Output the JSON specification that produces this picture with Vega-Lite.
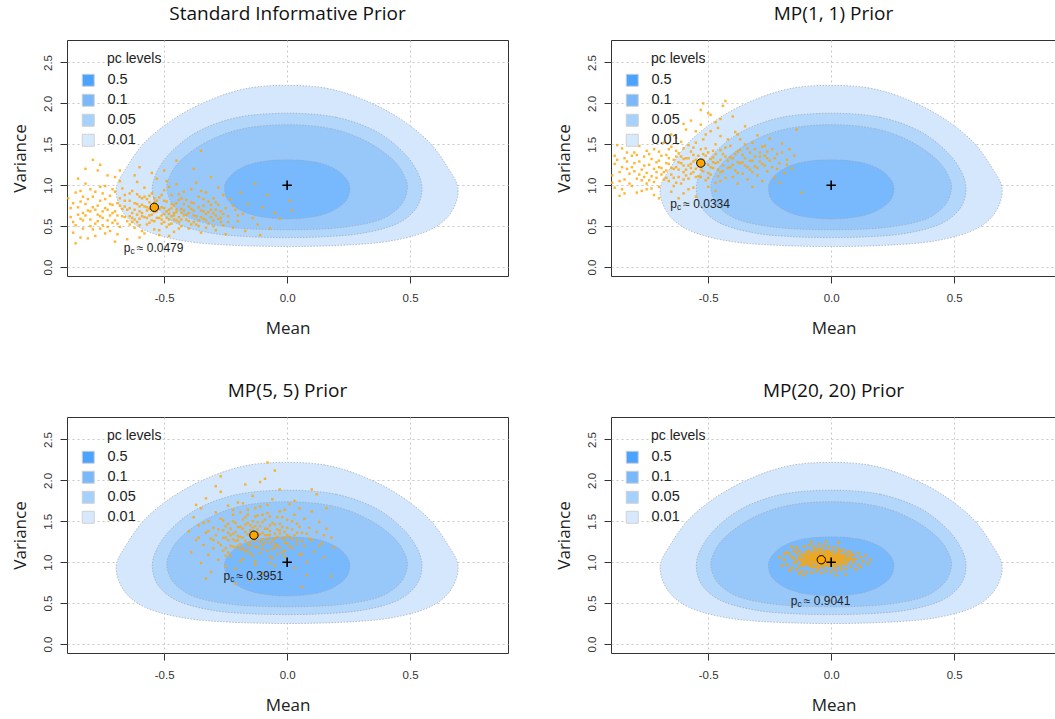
{
  "$schema": "https://vega.github.io/schema/vega-lite/v6.json",
  "background": "white",
  "autosize": {"type": "none"},
  "padding": {"left": 67, "top": 40, "right": 988, "bottom": 679},
  "columns": 2,
  "spacing": {"row": 141, "column": 103},
  "bounds": "flush",
  "align": "each",
  "resolve": {"scale": {"color": "independent", "fill": "independent"}, "legend": {"color": "independent"}},
  "config": {
    "font": "Liberation Sans",
    "view": {"stroke": "#333", "strokeWidth": 1},
    "title": {"font": "Open Sans", "fontSize": 19, "fontWeight": "normal", "color": "#111", "offset": 16, "anchor": "middle"},
    "axis": {
      "grid": true, "gridColor": "#c8c8c8", "gridDash": [2, 3], "gridWidth": 1,
      "domain": false, "ticks": true, "tickColor": "#333", "tickSize": 7,
      "labelFont": "Liberation Sans", "labelFontSize": 11.5, "labelColor": "#333",
      "titleFont": "Open Sans", "titleFontSize": 17, "titleFontWeight": "normal", "titleColor": "#222",
      "zindex": 1
    },
    "legend": {
      "orient": "none", "legendX": 40, "legendY": 12, "padding": 0,
      "titleFont": "Liberation Sans", "titleFontSize": 14, "titleFontWeight": "normal", "titleColor": "#222", "titlePadding": 7,
      "labelFont": "Liberation Sans", "labelFontSize": 14.5, "labelColor": "#222",
      "symbolType": "square", "symbolSize": 144, "symbolStrokeColor": "#d0d0d0", "symbolStrokeWidth": 1, "symbolOpacity": 1,
      "symbolOffset": -26, "labelOffset": 12, "rowPadding": 3
    }
  },
  "datasets": {
    "levels": [{"level": "0.5"}, {"level": "0.1"}, {"level": "0.05"}, {"level": "0.01"}],
    "regions": [
      {"level":"0.01","i":1,"m":0,"v":2.22},{"level":"0.01","i":2,"m":0.15,"v":2.19},{"level":"0.01","i":3,"m":0.29,"v":2.07},{"level":"0.01","i":4,"m":0.44,"v":1.85},{"level":"0.01","i":5,"m":0.57,"v":1.55},{"level":"0.01","i":6,"m":0.65,"v":1.23},{"level":"0.01","i":7,"m":0.695,"v":0.95},{"level":"0.01","i":8,"m":0.665,"v":0.66},{"level":"0.01","i":9,"m":0.585,"v":0.46},{"level":"0.01","i":10,"m":0.45,"v":0.335},{"level":"0.01","i":11,"m":0.28,"v":0.275},{"level":"0.01","i":12,"m":0,"v":0.25},{"level":"0.01","i":13,"m":-0.28,"v":0.275},{"level":"0.01","i":14,"m":-0.45,"v":0.335},{"level":"0.01","i":15,"m":-0.585,"v":0.46},{"level":"0.01","i":16,"m":-0.665,"v":0.66},{"level":"0.01","i":17,"m":-0.695,"v":0.95},{"level":"0.01","i":18,"m":-0.65,"v":1.23},{"level":"0.01","i":19,"m":-0.57,"v":1.55},{"level":"0.01","i":20,"m":-0.44,"v":1.85},{"level":"0.01","i":21,"m":-0.29,"v":2.07},{"level":"0.01","i":22,"m":-0.15,"v":2.19},
      {"level":"0.05","i":1,"m":0,"v":1.88},{"level":"0.05","i":2,"m":0.2,"v":1.83},{"level":"0.05","i":3,"m":0.36,"v":1.66},{"level":"0.05","i":4,"m":0.47,"v":1.41},{"level":"0.05","i":5,"m":0.53,"v":1.16},{"level":"0.05","i":6,"m":0.548,"v":0.93},{"level":"0.05","i":7,"m":0.52,"v":0.7},{"level":"0.05","i":8,"m":0.44,"v":0.52},{"level":"0.05","i":9,"m":0.3,"v":0.41},{"level":"0.05","i":10,"m":0.15,"v":0.37},{"level":"0.05","i":11,"m":0,"v":0.36},{"level":"0.05","i":12,"m":-0.15,"v":0.37},{"level":"0.05","i":13,"m":-0.3,"v":0.41},{"level":"0.05","i":14,"m":-0.44,"v":0.52},{"level":"0.05","i":15,"m":-0.52,"v":0.7},{"level":"0.05","i":16,"m":-0.548,"v":0.93},{"level":"0.05","i":17,"m":-0.53,"v":1.16},{"level":"0.05","i":18,"m":-0.47,"v":1.41},{"level":"0.05","i":19,"m":-0.36,"v":1.66},{"level":"0.05","i":20,"m":-0.2,"v":1.83},
      {"level":"0.1","i":1,"m":0,"v":1.74},{"level":"0.1","i":2,"m":0.18,"v":1.69},{"level":"0.1","i":3,"m":0.32,"v":1.54},{"level":"0.1","i":4,"m":0.43,"v":1.31},{"level":"0.1","i":5,"m":0.48,"v":1.09},{"level":"0.1","i":6,"m":0.487,"v":0.92},{"level":"0.1","i":7,"m":0.455,"v":0.73},{"level":"0.1","i":8,"m":0.37,"v":0.57},{"level":"0.1","i":9,"m":0.21,"v":0.48},{"level":"0.1","i":10,"m":0,"v":0.455},{"level":"0.1","i":11,"m":-0.21,"v":0.48},{"level":"0.1","i":12,"m":-0.37,"v":0.57},{"level":"0.1","i":13,"m":-0.455,"v":0.73},{"level":"0.1","i":14,"m":-0.487,"v":0.92},{"level":"0.1","i":15,"m":-0.48,"v":1.09},{"level":"0.1","i":16,"m":-0.43,"v":1.31},{"level":"0.1","i":17,"m":-0.32,"v":1.54},{"level":"0.1","i":18,"m":-0.18,"v":1.69},
      {"level":"0.5","i":1,"m":0,"v":1.31},{"level":"0.5","i":2,"m":0.12,"v":1.28},{"level":"0.5","i":3,"m":0.2,"v":1.19},{"level":"0.5","i":4,"m":0.245,"v":1.06},{"level":"0.5","i":5,"m":0.255,"v":0.94},{"level":"0.5","i":6,"m":0.237,"v":0.8},{"level":"0.5","i":7,"m":0.18,"v":0.68},{"level":"0.5","i":8,"m":0.1,"v":0.61},{"level":"0.5","i":9,"m":0,"v":0.587},{"level":"0.5","i":10,"m":-0.1,"v":0.61},{"level":"0.5","i":11,"m":-0.18,"v":0.68},{"level":"0.5","i":12,"m":-0.237,"v":0.8},{"level":"0.5","i":13,"m":-0.255,"v":0.94},{"level":"0.5","i":14,"m":-0.245,"v":1.06},{"level":"0.5","i":15,"m":-0.2,"v":1.19},{"level":"0.5","i":16,"m":-0.12,"v":1.28}
    ],
    "s1": [
      {"m":-0.88,"v":0.72},{"m":-0.87,"v":0.55},{"m":-0.86,"v":0.91},{"m":-0.85,"v":0.64},{"m":-0.84,"v":0.8},{"m":-0.83,"v":0.47},{"m":-0.82,"v":1.02},{"m":-0.81,"v":0.69},{"m":-0.8,"v":0.58},{"m":-0.79,"v":1.31},{"m":-0.79,"v":0.86},{"m":-0.78,"v":0.38},{"m":-0.77,"v":0.75},{"m":-0.76,"v":0.62},{"m":-0.76,"v":0.98},{"m":-0.75,"v":0.51},{"m":-0.74,"v":0.83},{"m":-0.73,"v":0.7},{"m":-0.73,"v":1.12},{"m":-0.72,"v":0.44},{"m":-0.71,"v":0.66},{"m":-0.7,"v":0.92},{"m":-0.7,"v":0.57},{"m":-0.69,"v":0.78},{"m":-0.68,"v":1.05},{"m":-0.68,"v":0.49},{"m":-0.67,"v":0.71},{"m":-0.66,"v":0.61},{"m":-0.66,"v":0.88},{"m":-0.65,"v":0.34},{"m":-0.89,"v":0.84},{"m":-0.87,"v":0.42},{"m":-0.85,"v":1.08},{"m":-0.84,"v":0.59},{"m":-0.82,"v":0.77},{"m":-0.81,"v":0.35},{"m":-0.8,"v":0.95},{"m":-0.78,"v":0.53},{"m":-0.77,"v":1.18},{"m":-0.75,"v":0.68},{"m":-0.74,"v":0.41},{"m":-0.72,"v":0.87},{"m":-0.71,"v":0.54},{"m":-0.69,"v":0.63},{"m":-0.67,"v":0.96},{"m":-0.86,"v":0.29},{"m":-0.83,"v":0.66},{"m":-0.79,"v":0.73},{"m":-0.76,"v":0.47},{"m":-0.74,"v":0.99},{"m":-0.71,"v":0.76},{"m":-0.69,"v":0.4},{"m":-0.68,"v":0.84},{"m":-0.88,"v":0.61},{"m":-0.84,"v":0.93},{"m":-0.8,"v":0.5},{"m":-0.77,"v":0.64},{"m":-0.73,"v":0.57},{"m":-0.7,"v":1.1},{"m":-0.66,"v":0.74},
      {"m":-0.64,"v":0.62},{"m":-0.64,"v":0.81},{"m":-0.63,"v":0.55},{"m":-0.63,"v":0.93},{"m":-0.62,"v":0.7},{"m":-0.62,"v":0.48},{"m":-0.61,"v":0.77},{"m":-0.61,"v":1.04},{"m":-0.6,"v":0.59},{"m":-0.6,"v":0.86},{"m":-0.59,"v":0.66},{"m":-0.59,"v":0.44},{"m":-0.58,"v":0.74},{"m":-0.58,"v":0.97},{"m":-0.57,"v":0.52},{"m":-0.57,"v":0.83},{"m":-0.56,"v":0.63},{"m":-0.56,"v":0.71},{"m":-0.55,"v":0.9},{"m":-0.55,"v":0.57},{"m":-0.54,"v":0.79},{"m":-0.54,"v":0.46},{"m":-0.53,"v":0.68},{"m":-0.53,"v":1.08},{"m":-0.52,"v":0.6},{"m":-0.52,"v":0.85},{"m":-0.51,"v":0.73},{"m":-0.51,"v":0.53},{"m":-0.5,"v":0.94},{"m":-0.5,"v":0.65},{"m":-0.49,"v":0.8},{"m":-0.49,"v":0.49},{"m":-0.48,"v":0.7},{"m":-0.48,"v":0.58},{"m":-0.47,"v":0.88},{"m":-0.47,"v":0.62},{"m":-0.46,"v":0.75},{"m":-0.46,"v":0.43},{"m":-0.45,"v":1.01},{"m":-0.45,"v":0.67},{"m":-0.44,"v":0.55},{"m":-0.44,"v":0.82},{"m":-0.43,"v":0.71},{"m":-0.43,"v":0.5},{"m":-0.42,"v":0.63},{"m":-0.42,"v":0.92},{"m":-0.64,"v":0.72},{"m":-0.63,"v":0.66},{"m":-0.62,"v":0.58},{"m":-0.61,"v":0.89},{"m":-0.6,"v":0.51},{"m":-0.59,"v":0.76},{"m":-0.58,"v":0.61},{"m":-0.57,"v":0.69},{"m":-0.56,"v":0.87},{"m":-0.55,"v":0.64},{"m":-0.54,"v":0.56},{"m":-0.53,"v":0.81},{"m":-0.52,"v":0.45},{"m":-0.51,"v":0.63},{"m":-0.5,"v":0.72},{"m":-0.49,"v":0.6},{"m":-0.48,"v":0.98},{"m":-0.47,"v":0.53},{"m":-0.46,"v":0.66},{"m":-0.45,"v":0.78},{"m":-0.44,"v":0.47},{"m":-0.43,"v":0.84},{"m":-0.62,"v":1.12},{"m":-0.58,"v":0.41},{"m":-0.55,"v":1.15},{"m":-0.52,"v":0.39},{"m":-0.49,"v":1.05},{"m":-0.46,"v":0.58},{"m":-0.64,"v":0.52},{"m":-0.6,"v":0.68},{"m":-0.57,"v":0.6},{"m":-0.53,"v":0.74},{"m":-0.5,"v":0.55},{"m":-0.47,"v":0.72},{"m":-0.44,"v":0.61},{"m":-0.42,"v":0.77},{"m":-0.61,"v":0.64},{"m":-0.56,"v":0.79},{"m":-0.51,"v":0.88},{"m":-0.48,"v":0.65},{"m":-0.45,"v":0.57},{"m":-0.59,"v":0.84},{"m":-0.54,"v":0.67},{"m":-0.43,"v":0.66},
      {"m":-0.41,"v":0.58},{"m":-0.41,"v":0.82},{"m":-0.4,"v":0.66},{"m":-0.4,"v":0.47},{"m":-0.39,"v":0.95},{"m":-0.39,"v":0.71},{"m":-0.38,"v":0.55},{"m":-0.38,"v":0.78},{"m":-0.37,"v":0.62},{"m":-0.37,"v":1.03},{"m":-0.36,"v":0.5},{"m":-0.36,"v":0.86},{"m":-0.35,"v":0.69},{"m":-0.35,"v":0.42},{"m":-0.34,"v":0.75},{"m":-0.34,"v":0.59},{"m":-0.33,"v":0.91},{"m":-0.33,"v":0.65},{"m":-0.32,"v":0.53},{"m":-0.32,"v":0.8},{"m":-0.31,"v":0.7},{"m":-0.31,"v":1.1},{"m":-0.3,"v":0.57},{"m":-0.3,"v":0.84},{"m":-0.29,"v":0.63},{"m":-0.29,"v":0.45},{"m":-0.28,"v":0.76},{"m":-0.28,"v":0.97},{"m":-0.27,"v":0.6},{"m":-0.27,"v":0.68},{"m":-0.26,"v":0.51},{"m":-0.26,"v":0.88},{"m":-0.25,"v":0.72},{"m":-0.25,"v":0.4},{"m":-0.4,"v":0.74},{"m":-0.38,"v":0.63},{"m":-0.36,"v":0.57},{"m":-0.34,"v":0.68},{"m":-0.33,"v":0.48},{"m":-0.31,"v":0.61},{"m":-0.29,"v":0.79},{"m":-0.27,"v":0.55},{"m":-0.39,"v":0.52},{"m":-0.35,"v":0.93},{"m":-0.3,"v":0.66},
      {"m":-0.24,"v":0.62},{"m":-0.23,"v":0.83},{"m":-0.22,"v":0.48},{"m":-0.21,"v":0.7},{"m":-0.2,"v":0.56},{"m":-0.19,"v":0.91},{"m":-0.18,"v":0.65},{"m":-0.17,"v":0.44},{"m":-0.16,"v":0.77},{"m":-0.14,"v":0.6},{"m":-0.13,"v":1.02},{"m":-0.12,"v":0.52},{"m":-0.1,"v":0.73},{"m":-0.08,"v":0.88},{"m":-0.07,"v":0.47},{"m":-0.05,"v":0.66},{"m":-0.03,"v":0.59},{"m":0.01,"v":0.81},{"m":0.02,"v":0.69},{"m":-0.11,"v":0.39},
      {"m":-0.87,"v":0.78},{"m":-0.86,"v":0.51},{"m":-0.85,"v":0.73},{"m":-0.83,"v":0.86},{"m":-0.83,"v":0.57},{"m":-0.82,"v":0.63},{"m":-0.81,"v":0.83},{"m":-0.8,"v":0.68},{"m":-0.79,"v":0.46},{"m":-0.78,"v":0.92},{"m":-0.78,"v":0.7},{"m":-0.77,"v":0.56},{"m":-0.76,"v":0.81},{"m":-0.75,"v":0.6},{"m":-0.75,"v":0.9},{"m":-0.74,"v":0.72},{"m":-0.73,"v":0.49},{"m":-0.72,"v":0.77},{"m":-0.72,"v":0.63},{"m":-0.71,"v":0.95},{"m":-0.7,"v":0.68},{"m":-0.69,"v":0.53},{"m":-0.68,"v":0.75},{"m":-0.67,"v":0.62},{"m":-0.66,"v":0.81},{"m":-0.65,"v":0.56},{"m":-0.65,"v":0.7},{"m":-0.64,"v":0.9},{"m":-0.63,"v":0.6},{"m":-0.62,"v":0.78},{"m":-0.61,"v":0.55},{"m":-0.6,"v":0.74},{"m":-0.59,"v":0.62},{"m":-0.58,"v":0.86},{"m":-0.57,"v":0.73},{"m":-0.56,"v":0.54},{"m":-0.55,"v":0.69},{"m":-0.54,"v":0.84},{"m":-0.53,"v":0.6},{"m":-0.52,"v":0.71},{"m":-0.51,"v":0.58},{"m":-0.5,"v":0.81},{"m":-0.49,"v":0.68},{"m":-0.48,"v":0.52},{"m":-0.47,"v":0.77},{"m":-0.46,"v":0.63},{"m":-0.45,"v":0.7},{"m":-0.44,"v":0.89},{"m":-0.43,"v":0.58},{"m":-0.42,"v":0.69},{"m":-0.41,"v":0.64},{"m":-0.4,"v":0.56},{"m":-0.39,"v":0.79},{"m":-0.38,"v":0.69},{"m":-0.37,"v":0.52},{"m":-0.36,"v":0.73},{"m":-0.35,"v":0.61},{"m":-0.34,"v":0.83},{"m":-0.33,"v":0.57},{"m":-0.32,"v":0.67},{"m":-0.31,"v":0.76},{"m":-0.3,"v":0.5},{"m":-0.29,"v":0.7},{"m":-0.28,"v":0.59},{"m":-0.26,"v":0.65},{"m":-0.24,"v":0.55},{"m":-0.22,"v":0.75},{"m":-0.2,"v":0.63},{"m":-0.82,"v":1.2},{"m":-0.76,"v":1.25},{"m":-0.68,"v":1.18},{"m":-0.6,"v":1.22},{"m":-0.5,"v":1.18},{"m":-0.45,"v":1.3},{"m":-0.38,"v":1.2},{"m":-0.35,"v":1.42},{"m":-0.84,"v":0.36},{"m":-0.7,"v":0.31},{"m":-0.6,"v":0.36},{"m":-0.48,"v":0.38}
    ],
    "s2": [
      {"m":-0.89,"v":1.12},{"m":-0.88,"v":0.97},{"m":-0.87,"v":1.31},{"m":-0.86,"v":1.05},{"m":-0.85,"v":1.22},{"m":-0.84,"v":0.9},{"m":-0.83,"v":1.4},{"m":-0.82,"v":1.14},{"m":-0.81,"v":0.99},{"m":-0.8,"v":1.27},{"m":-0.79,"v":1.08},{"m":-0.78,"v":1.48},{"m":-0.77,"v":0.93},{"m":-0.77,"v":1.19},{"m":-0.76,"v":1.35},{"m":-0.75,"v":1.02},{"m":-0.74,"v":1.25},{"m":-0.73,"v":1.11},{"m":-0.72,"v":0.88},{"m":-0.72,"v":1.44},{"m":-0.71,"v":1.16},{"m":-0.7,"v":1.3},{"m":-0.7,"v":0.98},{"m":-0.69,"v":1.21},{"m":-0.68,"v":1.07},{"m":-0.68,"v":1.52},{"m":-0.88,"v":1.26},{"m":-0.86,"v":0.87},{"m":-0.84,"v":1.33},{"m":-0.82,"v":1.02},{"m":-0.8,"v":1.17},{"m":-0.79,"v":0.91},{"m":-0.76,"v":1.1},{"m":-0.74,"v":1.38},{"m":-0.73,"v":0.96},{"m":-0.71,"v":1.28},{"m":-0.69,"v":1.13},{"m":-0.87,"v":1.49},{"m":-0.83,"v":1.2},{"m":-0.78,"v":1.29},{"m":-0.75,"v":1.15},{"m":-0.72,"v":1.04},{"m":-0.85,"v":0.95},{"m":-0.81,"v":1.36},{"m":-0.77,"v":1.06},{"m":-0.7,"v":1.41},{"m":-0.89,"v":1.03},{"m":-0.8,"v":1.58},
      {"m":-0.67,"v":1.18},{"m":-0.67,"v":1.37},{"m":-0.66,"v":1.05},{"m":-0.66,"v":1.26},{"m":-0.65,"v":1.47},{"m":-0.65,"v":1.13},{"m":-0.64,"v":1.31},{"m":-0.64,"v":0.99},{"m":-0.63,"v":1.22},{"m":-0.63,"v":1.58},{"m":-0.62,"v":1.1},{"m":-0.62,"v":1.39},{"m":-0.61,"v":1.27},{"m":-0.61,"v":1.02},{"m":-0.6,"v":1.45},{"m":-0.6,"v":1.16},{"m":-0.59,"v":1.33},{"m":-0.59,"v":1.68},{"m":-0.58,"v":1.08},{"m":-0.58,"v":1.24},{"m":-0.57,"v":1.41},{"m":-0.57,"v":1.14},{"m":-0.56,"v":1.29},{"m":-0.56,"v":0.97},{"m":-0.55,"v":1.52},{"m":-0.55,"v":1.2},{"m":-0.54,"v":1.36},{"m":-0.54,"v":1.11},{"m":-0.53,"v":1.44},{"m":-0.53,"v":1.74},{"m":-0.52,"v":1.17},{"m":-0.52,"v":1.31},{"m":-0.51,"v":1.06},{"m":-0.51,"v":1.62},{"m":-0.5,"v":1.25},{"m":-0.5,"v":1.4},{"m":-0.49,"v":1.13},{"m":-0.49,"v":1.86},{"m":-0.48,"v":1.34},{"m":-0.48,"v":1.21},{"m":-0.47,"v":1.5},{"m":-0.47,"v":1.03},{"m":-0.46,"v":1.28},{"m":-0.46,"v":1.7},{"m":-0.45,"v":1.16},{"m":-0.45,"v":1.43},{"m":-0.44,"v":1.97},{"m":-0.44,"v":1.24},{"m":-0.43,"v":1.35},{"m":-0.43,"v":1.09},{"m":-0.42,"v":1.56},{"m":-0.42,"v":1.3},{"m":-0.66,"v":1.33},{"m":-0.64,"v":1.2},{"m":-0.62,"v":1.28},{"m":-0.6,"v":1.07},{"m":-0.58,"v":1.49},{"m":-0.56,"v":1.37},{"m":-0.54,"v":1.23},{"m":-0.52,"v":1.56},{"m":-0.5,"v":1.15},{"m":-0.48,"v":1.42},{"m":-0.46,"v":1.19},{"m":-0.44,"v":1.38},{"m":-0.65,"v":1.62},{"m":-0.61,"v":1.53},{"m":-0.57,"v":1.79},{"m":-0.53,"v":1.92},{"m":-0.49,"v":1.66},{"m":-0.45,"v":1.81},{"m":-0.43,"v":2.03},{"m":-0.63,"v":1.35},{"m":-0.59,"v":1.19},{"m":-0.55,"v":1.31},{"m":-0.51,"v":1.45},{"m":-0.47,"v":1.27},{"m":-0.67,"v":1.09},{"m":-0.63,"v":1.03},{"m":-0.57,"v":1.26},{"m":-0.53,"v":1.1},{"m":-0.49,"v":1.32},{"m":-0.45,"v":1.05},{"m":-0.6,"v":1.32},{"m":-0.56,"v":1.16},{"m":-0.52,"v":1.38},
      {"m":-0.41,"v":1.22},{"m":-0.41,"v":1.48},{"m":-0.4,"v":1.1},{"m":-0.4,"v":1.33},{"m":-0.39,"v":1.65},{"m":-0.39,"v":1.18},{"m":-0.38,"v":1.41},{"m":-0.38,"v":1.02},{"m":-0.37,"v":1.27},{"m":-0.37,"v":1.56},{"m":-0.36,"v":1.14},{"m":-0.36,"v":1.37},{"m":-0.35,"v":1.24},{"m":-0.35,"v":1.72},{"m":-0.34,"v":1.07},{"m":-0.34,"v":1.45},{"m":-0.33,"v":1.3},{"m":-0.33,"v":1.19},{"m":-0.32,"v":1.52},{"m":-0.32,"v":0.98},{"m":-0.31,"v":1.35},{"m":-0.31,"v":1.23},{"m":-0.3,"v":1.61},{"m":-0.3,"v":1.12},{"m":-0.29,"v":1.4},{"m":-0.28,"v":1.26},{"m":-0.28,"v":1.05},{"m":-0.27,"v":1.48},{"m":-0.26,"v":1.17},{"m":-0.26,"v":1.33},{"m":-0.25,"v":1.57},{"m":-0.24,"v":1.22},{"m":-0.23,"v":1.09},{"m":-0.22,"v":1.38},{"m":-0.21,"v":1.27},{"m":-0.2,"v":1.51},{"m":-0.19,"v":1.15},{"m":-0.18,"v":1.31},{"m":-0.17,"v":1.44},{"m":-0.16,"v":1.2},{"m":-0.15,"v":1.36},{"m":-0.38,"v":1.28},{"m":-0.35,"v":1.5},{"m":-0.32,"v":1.16},{"m":-0.29,"v":1.29},{"m":-0.27,"v":1.36},{"m":-0.24,"v":1.44},{"m":-0.21,"v":1.03},{"m":-0.14,"v":1.68},{"m":-0.12,"v":0.91},
      {"m":-0.6,"v":0.9},{"m":-0.55,"v":0.86},{"m":-0.62,"v":0.84},{"m":-0.47,"v":0.93},{"m":-0.7,"v":0.84},
      {"m":-0.86,"v":1.16},{"m":-0.84,"v":1.07},{"m":-0.83,"v":1.29},{"m":-0.81,"v":1.22},{"m":-0.79,"v":1.37},{"m":-0.78,"v":1.13},{"m":-0.76,"v":1.24},{"m":-0.75,"v":1.42},{"m":-0.74,"v":1.06},{"m":-0.73,"v":1.32},{"m":-0.72,"v":1.2},{"m":-0.71,"v":1.09},{"m":-0.7,"v":1.22},{"m":-0.69,"v":1.36},{"m":-0.68,"v":1.16},{"m":-0.67,"v":1.27},{"m":-0.66,"v":1.44},{"m":-0.65,"v":1.21},{"m":-0.64,"v":1.09},{"m":-0.63,"v":1.42},{"m":-0.62,"v":1.19},{"m":-0.61,"v":1.35},{"m":-0.6,"v":1.24},{"m":-0.59,"v":1.12},{"m":-0.58,"v":1.33},{"m":-0.57,"v":1.21},{"m":-0.56,"v":1.46},{"m":-0.55,"v":1.1},{"m":-0.54,"v":1.29},{"m":-0.53,"v":1.19},{"m":-0.52,"v":1.25},{"m":-0.51,"v":1.36},{"m":-0.5,"v":1.09},{"m":-0.49,"v":1.22},{"m":-0.48,"v":1.28},{"m":-0.47,"v":1.38},{"m":-0.46,"v":1.11},{"m":-0.45,"v":1.31},{"m":-0.44,"v":1.17},{"m":-0.43,"v":1.46},{"m":-0.42,"v":1.21},{"m":-0.41,"v":1.34},{"m":-0.4,"v":1.25},{"m":-0.39,"v":1.38},{"m":-0.38,"v":1.15},{"m":-0.37,"v":1.43},{"m":-0.36,"v":1.28},{"m":-0.35,"v":1.33},{"m":-0.34,"v":1.22},{"m":-0.33,"v":1.4},{"m":-0.32,"v":1.3},{"m":-0.31,"v":1.44},{"m":-0.3,"v":1.21},{"m":-0.29,"v":1.35},{"m":-0.28,"v":1.47},{"m":-0.27,"v":1.24},{"m":-0.26,"v":1.41},{"m":-0.25,"v":1.3},{"m":-0.23,"v":1.33},{"m":-0.22,"v":1.2},{"m":-0.2,"v":1.4},{"m":-0.18,"v":1.25},{"m":-0.6,"v":1.75},{"m":-0.55,"v":1.66},{"m":-0.5,"v":1.88},{"m":-0.47,"v":1.77},{"m":-0.4,"v":1.84},{"m":-0.38,"v":1.62},{"m":-0.52,"v":2},{"m":-0.45,"v":1.6},{"m":-0.85,"v":1.45},{"m":-0.8,"v":1.4},{"m":-0.88,"v":1.36},{"m":-0.75,"v":0.95},{"m":-0.65,"v":0.92},{"m":-0.58,"v":0.95},{"m":-0.5,"v":0.98}
    ],
    "s3": [
      {"m":-0.4,"v":1.38},{"m":-0.39,"v":1.12},{"m":-0.38,"v":1.55},{"m":-0.37,"v":1.27},{"m":-0.36,"v":1.45},{"m":-0.35,"v":0.99},{"m":-0.35,"v":1.66},{"m":-0.34,"v":1.21},{"m":-0.33,"v":1.36},{"m":-0.33,"v":1.78},{"m":-0.32,"v":1.09},{"m":-0.32,"v":1.5},{"m":-0.31,"v":1.29},{"m":-0.31,"v":0.88},{"m":-0.3,"v":1.42},{"m":-0.3,"v":1.17},{"m":-0.29,"v":1.61},{"m":-0.29,"v":1.33},{"m":-0.28,"v":1.03},{"m":-0.28,"v":1.24},{"m":-0.27,"v":1.53},{"m":-0.27,"v":1.86},{"m":-0.26,"v":1.14},{"m":-0.26,"v":1.39},{"m":-0.25,"v":1.3},{"m":-0.25,"v":0.95},{"m":-0.24,"v":1.47},{"m":-0.24,"v":1.69},{"m":-0.23,"v":1.2},{"m":-0.23,"v":1.08},{"m":-0.22,"v":1.35},{"m":-0.22,"v":1.58},{"m":-0.21,"v":1.26},{"m":-0.21,"v":0.92},{"m":-0.2,"v":1.43},{"m":-0.2,"v":1.73},{"m":-0.19,"v":1.16},{"m":-0.19,"v":1.31},{"m":-0.18,"v":1.52},{"m":-0.18,"v":1.04},{"m":-0.17,"v":1.37},{"m":-0.17,"v":1.95},{"m":-0.16,"v":1.22},{"m":-0.16,"v":1.64},{"m":-0.15,"v":1.11},{"m":-0.15,"v":1.45},{"m":-0.14,"v":1.29},{"m":-0.14,"v":1.81},{"m":-0.13,"v":1.01},{"m":-0.13,"v":1.56},{"m":-0.12,"v":1.18},{"m":-0.12,"v":1.4},{"m":-0.11,"v":1.68},{"m":-0.11,"v":1.25},{"m":-0.1,"v":1.49},{"m":-0.1,"v":0.86},{"m":-0.09,"v":1.33},{"m":-0.09,"v":2.02},{"m":-0.08,"v":1.14},{"m":-0.08,"v":1.6},{"m":-0.07,"v":1.38},{"m":-0.07,"v":1.07},{"m":-0.06,"v":1.77},{"m":-0.06,"v":1.27},{"m":-0.05,"v":1.46},{"m":-0.05,"v":0.96},{"m":-0.04,"v":1.21},{"m":-0.04,"v":1.55},{"m":-0.03,"v":1.35},{"m":-0.03,"v":1.89},{"m":-0.02,"v":1.12},{"m":-0.02,"v":1.43},{"m":-0.01,"v":1.64},{"m":-0.01,"v":1.24},{"m":0,"v":1.52},{"m":0,"v":1.02},{"m":0.01,"v":1.31},{"m":0.01,"v":1.71},{"m":0.02,"v":1.17},{"m":0.02,"v":1.4},{"m":0.03,"v":1.58},{"m":0.03,"v":0.93},{"m":0.04,"v":1.27},{"m":0.04,"v":1.47},{"m":0.05,"v":1.09},{"m":0.05,"v":1.66},{"m":0.06,"v":1.36},{"m":0.07,"v":1.2},{"m":0.07,"v":1.53},{"m":0.08,"v":1},{"m":0.09,"v":1.42},{"m":0.09,"v":1.29},{"m":0.1,"v":1.62},{"m":0.11,"v":1.13},{"m":0.12,"v":1.37},{"m":0.13,"v":1.49},{"m":0.14,"v":1.23},{"m":0.15,"v":1.06},{"m":0.16,"v":1.41},{"m":0.18,"v":1.3},{"m":0.19,"v":1.18},
      {"m":-0.24,"v":1.27},{"m":-0.23,"v":1.41},{"m":-0.22,"v":1.19},{"m":-0.21,"v":1.48},{"m":-0.2,"v":1.32},{"m":-0.19,"v":1.22},{"m":-0.18,"v":1.41},{"m":-0.17,"v":1.13},{"m":-0.16,"v":1.34},{"m":-0.15,"v":1.25},{"m":-0.14,"v":1.5},{"m":-0.13,"v":1.19},{"m":-0.12,"v":1.31},{"m":-0.11,"v":1.44},{"m":-0.1,"v":1.21},{"m":-0.09,"v":1.52},{"m":-0.08,"v":1.28},{"m":-0.07,"v":1.45},{"m":-0.06,"v":1.16},{"m":-0.05,"v":1.35},{"m":-0.04,"v":1.4},{"m":-0.03,"v":1.18},{"m":-0.02,"v":1.29},{"m":-0.01,"v":1.37},{"m":0,"v":1.23},{"m":-0.26,"v":1.51},{"m":-0.25,"v":1.17},{"m":-0.22,"v":1.28},{"m":-0.19,"v":1.61},{"m":-0.17,"v":1.26},{"m":-0.15,"v":1.39},{"m":-0.13,"v":1.44},{"m":-0.11,"v":1.11},{"m":-0.09,"v":1.24},{"m":-0.07,"v":1.56},{"m":-0.05,"v":1.22},{"m":-0.03,"v":1.47},{"m":-0.01,"v":1.14},{"m":0.02,"v":1.28},{"m":0.04,"v":1.36},{"m":-0.18,"v":1.17},{"m":-0.16,"v":1.48},{"m":-0.14,"v":1.08},{"m":-0.12,"v":1.57},{"m":-0.1,"v":1.36},{"m":-0.08,"v":1.41},{"m":-0.06,"v":1.05},{"m":-0.04,"v":1.31},{"m":-0.21,"v":1.37},{"m":-0.14,"v":1.35},
      {"m":-0.08,"v":2.22},{"m":-0.05,"v":2.12},{"m":-0.27,"v":2.05},{"m":-0.11,"v":1.98},{"m":0.12,"v":1.83},{"m":0.16,"v":1.66},{"m":-0.33,"v":0.8},{"m":-0.21,"v":0.74},{"m":-0.15,"v":0.78},{"m":0.06,"v":0.7},{"m":0.18,"v":0.83},{"m":-0.37,"v":1.7},{"m":0.1,"v":1.89},{"m":-0.29,"v":1.93},{"m":0.08,"v":0.84},
      {"m":-0.28,"v":1.4},{"m":-0.27,"v":1.21},{"m":-0.26,"v":1.3},{"m":-0.25,"v":1.44},{"m":-0.24,"v":1.12},{"m":-0.23,"v":1.33},{"m":-0.22,"v":1.5},{"m":-0.21,"v":1.18},{"m":-0.2,"v":1.27},{"m":-0.19,"v":1.43},{"m":-0.18,"v":1.3},{"m":-0.17,"v":1.55},{"m":-0.16,"v":1.15},{"m":-0.15,"v":1.31},{"m":-0.14,"v":1.42},{"m":-0.13,"v":1.26},{"m":-0.12,"v":1.49},{"m":-0.11,"v":1.34},{"m":-0.1,"v":1.16},{"m":-0.09,"v":1.41},{"m":-0.08,"v":1.33},{"m":-0.07,"v":1.23},{"m":-0.06,"v":1.48},{"m":-0.05,"v":1.29},{"m":-0.04,"v":1.1},{"m":-0.03,"v":1.39},{"m":-0.02,"v":1.55},{"m":-0.01,"v":1.3},{"m":0,"v":1.42},{"m":0.01,"v":1.19},{"m":0.02,"v":1.5},{"m":0.03,"v":1.33},{"m":0.04,"v":1.22},{"m":0.05,"v":1.43},{"m":0.06,"v":1.26},{"m":0.08,"v":1.35},{"m":0.1,"v":1.27},{"m":-0.3,"v":1.27},{"m":-0.32,"v":1.38},{"m":-0.34,"v":1.48},{"m":-0.36,"v":1.3},{"m":-0.22,"v":1.64},{"m":-0.18,"v":1.72},{"m":-0.13,"v":1.66},{"m":-0.08,"v":1.7},{"m":-0.03,"v":1.62},{"m":0.03,"v":1.75},{"m":-0.25,"v":1.08},{"m":-0.19,"v":1.01},{"m":-0.13,"v":0.97},{"m":-0.07,"v":0.99},{"m":-0.01,"v":1.07},{"m":0.06,"v":1.1},{"m":-0.2,"v":1.2},{"m":-0.15,"v":1.2},{"m":-0.1,"v":1.28},{"m":-0.05,"v":1.18},{"m":-0.12,"v":1.36},{"m":-0.17,"v":1.46},{"m":-0.07,"v":1.33},{"m":-0.24,"v":1.36},{"m":0,"v":1.33},{"m":-0.16,"v":1.58},{"m":-0.1,"v":1.58},{"m":0.13,"v":1.2},{"m":0.15,"v":1.33}
    ],
    "s4": [
      {"m":-0.12,"v":1.04},{"m":-0.11,"v":0.99},{"m":-0.11,"v":1.09},{"m":-0.1,"v":1.02},{"m":-0.1,"v":1.13},{"m":-0.09,"v":0.96},{"m":-0.09,"v":1.06},{"m":-0.08,"v":1},{"m":-0.08,"v":1.11},{"m":-0.08,"v":1.04},{"m":-0.07,"v":0.94},{"m":-0.07,"v":1.08},{"m":-0.07,"v":1.02},{"m":-0.06,"v":1.15},{"m":-0.06,"v":0.98},{"m":-0.06,"v":1.05},{"m":-0.05,"v":1.1},{"m":-0.05,"v":1.01},{"m":-0.05,"v":0.95},{"m":-0.04,"v":1.07},{"m":-0.04,"v":1.12},{"m":-0.04,"v":0.99},{"m":-0.03,"v":1.04},{"m":-0.03,"v":0.93},{"m":-0.03,"v":1.09},{"m":-0.02,"v":1.01},{"m":-0.02,"v":1.14},{"m":-0.02,"v":0.97},{"m":-0.01,"v":1.06},{"m":-0.01,"v":1.02},{"m":0,"v":1.1},{"m":0,"v":0.96},{"m":0,"v":1.04},{"m":0.01,"v":1},{"m":0.01,"v":1.08},{"m":0.02,"v":1.03},{"m":0.02,"v":0.95},{"m":0.03,"v":1.06},{"m":0.03,"v":1.12},{"m":0.04,"v":0.99},{"m":0.04,"v":1.05},{"m":0.05,"v":1.02},{"m":0.05,"v":1.09},{"m":0.06,"v":0.97},{"m":0.06,"v":1.04},{"m":0.07,"v":1.07},{"m":-0.13,"v":1.07},{"m":-0.12,"v":0.97},{"m":-0.1,"v":1.07},{"m":-0.09,"v":1.01},{"m":-0.08,"v":0.97},{"m":-0.07,"v":1.12},{"m":-0.06,"v":1.01},{"m":-0.05,"v":1.06},{"m":-0.04,"v":1.03},{"m":-0.03,"v":1},{"m":-0.02,"v":1.06},{"m":-0.01,"v":0.99},{"m":-0.01,"v":1.11},{"m":0,"v":1.01},{"m":0.01,"v":1.05},{"m":0.02,"v":1.1},{"m":0.03,"v":1.01},{"m":0.04,"v":1.08},{"m":-0.11,"v":1.02},{"m":-0.09,"v":1.1},{"m":-0.06,"v":0.94},{"m":-0.04,"v":1.16},{"m":-0.02,"v":1.03},{"m":0,"v":1.07},{"m":0.02,"v":0.99},{"m":0.05,"v":1.05},{"m":-0.1,"v":0.98},{"m":-0.07,"v":1.05},{"m":-0.05,"v":0.98},{"m":-0.03,"v":1.13},{"m":-0.01,"v":0.95},{"m":0.01,"v":1.13},{"m":0.03,"v":0.97},{"m":-0.08,"v":1.07},{"m":-0.06,"v":1.09},{"m":-0.04,"v":0.96},{"m":-0.02,"v":1.09},{"m":0,"v":0.99},{"m":0.02,"v":1.06},{"m":-0.14,"v":1.01},{"m":-0.12,"v":1.1},{"m":0.07,"v":1.01},{"m":0.08,"v":1.04},{"m":-0.09,"v":1.14},{"m":0.04,"v":1.13},{"m":-0.05,"v":1.17},
      {"m":-0.19,"v":1.03},{"m":-0.18,"v":0.97},{"m":-0.17,"v":1.1},{"m":-0.16,"v":1.06},{"m":-0.16,"v":0.93},{"m":-0.15,"v":1.14},{"m":-0.15,"v":0.99},{"m":-0.14,"v":1.18},{"m":-0.14,"v":0.91},{"m":-0.13,"v":0.95},{"m":-0.13,"v":1.14},{"m":-0.12,"v":0.89},{"m":-0.11,"v":1.19},{"m":-0.1,"v":0.88},{"m":-0.09,"v":1.21},{"m":-0.08,"v":0.87},{"m":-0.07,"v":1.19},{"m":-0.06,"v":0.89},{"m":-0.05,"v":1.22},{"m":-0.04,"v":0.87},{"m":-0.03,"v":1.2},{"m":-0.02,"v":0.89},{"m":-0.01,"v":1.19},{"m":0,"v":0.88},{"m":0.01,"v":1.18},{"m":0.02,"v":0.9},{"m":0.03,"v":1.17},{"m":0.04,"v":0.91},{"m":0.05,"v":1.15},{"m":0.06,"v":0.92},{"m":0.07,"v":1.13},{"m":0.08,"v":0.95},{"m":0.09,"v":1.09},{"m":0.09,"v":1},{"m":0.1,"v":1.04},{"m":0.11,"v":0.97},{"m":0.12,"v":1.06},{"m":0.13,"v":1.01},{"m":0.15,"v":0.98},{"m":0.1,"v":0.91},{"m":-0.21,"v":1.06},{"m":-0.18,"v":1.12},{"m":-0.17,"v":0.9},{"m":0.08,"v":1.12},{"m":0.11,"v":1.11},{"m":-0.2,"v":0.96},{"m":0.14,"v":1.08},{"m":-0.16,"v":1.19},{"m":0.06,"v":0.85},{"m":-0.11,"v":0.84},{"m":0.03,"v":1.24},{"m":-0.08,"v":1.25},{"m":0.12,"v":0.94},{"m":-0.13,"v":0.86},{"m":0.02,"v":0.84},{"m":-0.02,"v":1.25},{"m":0.16,"v":1.03},{"m":-0.19,"v":1.1},
      {"m":-0.1,"v":1.05},{"m":-0.09,"v":1.03},{"m":-0.09,"v":0.99},{"m":-0.08,"v":1.09},{"m":-0.07,"v":0.99},{"m":-0.07,"v":1.04},{"m":-0.06,"v":1.03},{"m":-0.06,"v":1.11},{"m":-0.05,"v":1.04},{"m":-0.05,"v":1.13},{"m":-0.04,"v":1.01},{"m":-0.04,"v":1.09},{"m":-0.03,"v":1.06},{"m":-0.03,"v":0.97},{"m":-0.02,"v":1.11},{"m":-0.02,"v":0.99},{"m":-0.01,"v":1.04},{"m":-0.01,"v":1.08},{"m":0,"v":1.02},{"m":0,"v":1.12},{"m":0.01,"v":1.03},{"m":0.01,"v":0.97},{"m":0.02,"v":1.08},{"m":0.02,"v":1.01},{"m":0.03,"v":1.04},{"m":0.03,"v":1.09},{"m":0.04,"v":1.02},{"m":0.05,"v":1.07},{"m":0.05,"v":0.99},{"m":0.06,"v":1.1},{"m":-0.11,"v":1.06},{"m":-0.11,"v":0.96},{"m":-0.12,"v":1.01},{"m":-0.13,"v":1.04},{"m":-0.1,"v":1.1},{"m":-0.08,"v":0.94},{"m":-0.06,"v":1.07},{"m":-0.05,"v":0.92},{"m":-0.03,"v":1.02},{"m":-0.01,"v":1.14},{"m":0.01,"v":0.93},{"m":0.03,"v":1.14},{"m":0.06,"v":1},{"m":0.07,"v":1.04},{"m":-0.15,"v":1.05},{"m":-0.14,"v":1.11},{"m":0.08,"v":1.08},{"m":0.09,"v":1.03},{"m":-0.07,"v":1.15},{"m":0.04,"v":0.95}
    ]
  },
  "concat": [
    {
      "width": 441, "height": 236,
      "title": "Standard Informative Prior",
      "encoding": {
        "x": {"field": "m", "type": "quantitative", "title": "Mean", "scale": {"domain": [-0.895, 0.898], "nice": false, "zero": false}, "axis": {"values": [-0.5, 0, 0.5], "format": ".1f", "labelExpr": "replace(datum.label, '−', '-')", "labelPadding": 9, "titlePadding": 17}},
        "y": {"field": "v", "type": "quantitative", "title": "Variance", "scale": {"domain": [-0.11, 2.775], "nice": false, "zero": false}, "axis": {"values": [0, 0.5, 1, 1.5, 2, 2.5], "format": ".1f", "labelAngle": 270, "labelPadding": 7, "titlePadding": 13}}
      },
      "layer": [
        {"data": {"name": "regions"}, "mark": {"type": "line", "filled": true, "interpolate": "cardinal-closed", "stroke": "#9aa5b5", "strokeWidth": 1, "strokeDash": [1.5, 1.5], "strokeOpacity": 0.7},
         "encoding": {
           "fill": {"field": "level", "type": "nominal", "scale": {"domain": ["0.01", "0.05", "0.1", "0.5"], "range": ["#d4e7fc", "#b3d6fb", "#98c8fa", "#78b8fc"]}, "legend": null},
           "order": {"field": "i", "type": "quantitative"}}},
        {"data": {"name": "levels"}, "mark": {"type": "square", "size": 144},
         "encoding": {"color": {"field": "level", "type": "nominal", "title": "pᴄ levels", "scale": {"domain": ["0.5", "0.1", "0.05", "0.01"], "range": ["#4aa3fe", "#79b9fb", "#a6d1fc", "#d7e9fc"]}}}},
        {"data": {"name": "s1"}, "mark": {"type": "point", "shape": "square", "filled": true, "size": 6, "color": "#ffa500", "opacity": 0.8}},
        {"data": {"values": [{"m": -0.54, "v": 0.73, "pc": "≈ 0.0479"}]},
         "layer": [
           {"mark": {"type": "point", "shape": "circle", "filled": true, "size": 70, "color": "#ffa500", "stroke": "#000", "strokeWidth": 1, "opacity": 1}},
           {"mark": {"type": "text", "text": "p", "align": "left", "baseline": "middle", "dx": -30.5, "dy": 41, "fontSize": 12, "color": "#222"}},
           {"mark": {"type": "text", "text": "c", "align": "left", "baseline": "middle", "dx": -23.8, "dy": 44, "fontSize": 8.5, "color": "#222"}},
           {"mark": {"type": "text", "align": "left", "baseline": "middle", "dx": -17.5, "dy": 41, "fontSize": 12, "color": "#222"}, "encoding": {"text": {"field": "pc"}}}
         ]},
        {"data": {"values": [{"m": 0, "v": 1}]}, "mark": {"type": "point", "shape": "M-1,0L1,0M0,-1L0,1", "size": 90, "filled": false, "color": "#000", "strokeWidth": 1.6, "opacity": 1}}
      ]
    },
    {
      "width": 445, "height": 236,
      "title": "MP(1, 1) Prior",
      "encoding": {
        "x": {"field": "m", "type": "quantitative", "title": "Mean", "scale": {"domain": [-0.895, 0.914], "nice": false, "zero": false}, "axis": {"values": [-0.5, 0, 0.5], "format": ".1f", "labelExpr": "replace(datum.label, '−', '-')", "labelPadding": 9, "titlePadding": 17}},
        "y": {"field": "v", "type": "quantitative", "title": "Variance", "scale": {"domain": [-0.11, 2.775], "nice": false, "zero": false}, "axis": {"values": [0, 0.5, 1, 1.5, 2, 2.5], "format": ".1f", "labelAngle": 270, "labelPadding": 7, "titlePadding": 13}}
      },
      "layer": [
        {"data": {"name": "regions"}, "mark": {"type": "line", "filled": true, "interpolate": "cardinal-closed", "stroke": "#9aa5b5", "strokeWidth": 1, "strokeDash": [1.5, 1.5], "strokeOpacity": 0.7},
         "encoding": {
           "fill": {"field": "level", "type": "nominal", "scale": {"domain": ["0.01", "0.05", "0.1", "0.5"], "range": ["#d4e7fc", "#b3d6fb", "#98c8fa", "#78b8fc"]}, "legend": null},
           "order": {"field": "i", "type": "quantitative"}}},
        {"data": {"name": "levels"}, "mark": {"type": "square", "size": 144},
         "encoding": {"color": {"field": "level", "type": "nominal", "title": "pᴄ levels", "scale": {"domain": ["0.5", "0.1", "0.05", "0.01"], "range": ["#4aa3fe", "#79b9fb", "#a6d1fc", "#d7e9fc"]}}}},
        {"data": {"name": "s2"}, "mark": {"type": "point", "shape": "square", "filled": true, "size": 6, "color": "#ffa500", "opacity": 0.8}},
        {"data": {"values": [{"m": -0.53, "v": 1.27, "pc": "≈ 0.0334"}]},
         "layer": [
           {"mark": {"type": "point", "shape": "circle", "filled": true, "size": 70, "color": "#ffa500", "stroke": "#000", "strokeWidth": 1, "opacity": 1}},
           {"mark": {"type": "text", "text": "p", "align": "left", "baseline": "middle", "dx": -30.5, "dy": 41, "fontSize": 12, "color": "#222"}},
           {"mark": {"type": "text", "text": "c", "align": "left", "baseline": "middle", "dx": -23.8, "dy": 44, "fontSize": 8.5, "color": "#222"}},
           {"mark": {"type": "text", "align": "left", "baseline": "middle", "dx": -17.5, "dy": 41, "fontSize": 12, "color": "#222"}, "encoding": {"text": {"field": "pc"}}}
         ]},
        {"data": {"values": [{"m": 0, "v": 1}]}, "mark": {"type": "point", "shape": "M-1,0L1,0M0,-1L0,1", "size": 90, "filled": false, "color": "#000", "strokeWidth": 1.6, "opacity": 1}}
      ]
    },
    {
      "width": 441, "height": 236,
      "title": "MP(5, 5) Prior",
      "encoding": {
        "x": {"field": "m", "type": "quantitative", "title": "Mean", "scale": {"domain": [-0.895, 0.898], "nice": false, "zero": false}, "axis": {"values": [-0.5, 0, 0.5], "format": ".1f", "labelExpr": "replace(datum.label, '−', '-')", "labelPadding": 9, "titlePadding": 17}},
        "y": {"field": "v", "type": "quantitative", "title": "Variance", "scale": {"domain": [-0.11, 2.775], "nice": false, "zero": false}, "axis": {"values": [0, 0.5, 1, 1.5, 2, 2.5], "format": ".1f", "labelAngle": 270, "labelPadding": 7, "titlePadding": 13}}
      },
      "layer": [
        {"data": {"name": "regions"}, "mark": {"type": "line", "filled": true, "interpolate": "cardinal-closed", "stroke": "#9aa5b5", "strokeWidth": 1, "strokeDash": [1.5, 1.5], "strokeOpacity": 0.7},
         "encoding": {
           "fill": {"field": "level", "type": "nominal", "scale": {"domain": ["0.01", "0.05", "0.1", "0.5"], "range": ["#d4e7fc", "#b3d6fb", "#98c8fa", "#78b8fc"]}, "legend": null},
           "order": {"field": "i", "type": "quantitative"}}},
        {"data": {"name": "levels"}, "mark": {"type": "square", "size": 144},
         "encoding": {"color": {"field": "level", "type": "nominal", "title": "pᴄ levels", "scale": {"domain": ["0.5", "0.1", "0.05", "0.01"], "range": ["#4aa3fe", "#79b9fb", "#a6d1fc", "#d7e9fc"]}}}},
        {"data": {"name": "s3"}, "mark": {"type": "point", "shape": "square", "filled": true, "size": 6, "color": "#ffa500", "opacity": 0.8}},
        {"data": {"values": [{"m": -0.135, "v": 1.33, "pc": "≈ 0.3951"}]},
         "layer": [
           {"mark": {"type": "point", "shape": "circle", "filled": true, "size": 70, "color": "#ffa500", "stroke": "#000", "strokeWidth": 1, "opacity": 1}},
           {"mark": {"type": "text", "text": "p", "align": "left", "baseline": "middle", "dx": -30.5, "dy": 41, "fontSize": 12, "color": "#222"}},
           {"mark": {"type": "text", "text": "c", "align": "left", "baseline": "middle", "dx": -23.8, "dy": 44, "fontSize": 8.5, "color": "#222"}},
           {"mark": {"type": "text", "align": "left", "baseline": "middle", "dx": -17.5, "dy": 41, "fontSize": 12, "color": "#222"}, "encoding": {"text": {"field": "pc"}}}
         ]},
        {"data": {"values": [{"m": 0, "v": 1}]}, "mark": {"type": "point", "shape": "M-1,0L1,0M0,-1L0,1", "size": 90, "filled": false, "color": "#000", "strokeWidth": 1.6, "opacity": 1}}
      ]
    },
    {
      "width": 445, "height": 236,
      "title": "MP(20, 20) Prior",
      "encoding": {
        "x": {"field": "m", "type": "quantitative", "title": "Mean", "scale": {"domain": [-0.895, 0.914], "nice": false, "zero": false}, "axis": {"values": [-0.5, 0, 0.5], "format": ".1f", "labelExpr": "replace(datum.label, '−', '-')", "labelPadding": 9, "titlePadding": 17}},
        "y": {"field": "v", "type": "quantitative", "title": "Variance", "scale": {"domain": [-0.11, 2.775], "nice": false, "zero": false}, "axis": {"values": [0, 0.5, 1, 1.5, 2, 2.5], "format": ".1f", "labelAngle": 270, "labelPadding": 7, "titlePadding": 13}}
      },
      "layer": [
        {"data": {"name": "regions"}, "mark": {"type": "line", "filled": true, "interpolate": "cardinal-closed", "stroke": "#9aa5b5", "strokeWidth": 1, "strokeDash": [1.5, 1.5], "strokeOpacity": 0.7},
         "encoding": {
           "fill": {"field": "level", "type": "nominal", "scale": {"domain": ["0.01", "0.05", "0.1", "0.5"], "range": ["#d4e7fc", "#b3d6fb", "#98c8fa", "#78b8fc"]}, "legend": null},
           "order": {"field": "i", "type": "quantitative"}}},
        {"data": {"name": "levels"}, "mark": {"type": "square", "size": 144},
         "encoding": {"color": {"field": "level", "type": "nominal", "title": "pᴄ levels", "scale": {"domain": ["0.5", "0.1", "0.05", "0.01"], "range": ["#4aa3fe", "#79b9fb", "#a6d1fc", "#d7e9fc"]}}}},
        {"data": {"name": "s4"}, "mark": {"type": "point", "shape": "square", "filled": true, "size": 7, "color": "#ffa500", "opacity": 0.85}},
        {"data": {"values": [{"m": -0.04, "v": 1.03, "pc": "≈ 0.9041"}]},
         "layer": [
           {"mark": {"type": "point", "shape": "circle", "filled": true, "size": 70, "color": "#ffa500", "stroke": "#000", "strokeWidth": 1, "opacity": 1}},
           {"mark": {"type": "text", "text": "p", "align": "left", "baseline": "middle", "dx": -30.5, "dy": 41, "fontSize": 12, "color": "#222"}},
           {"mark": {"type": "text", "text": "c", "align": "left", "baseline": "middle", "dx": -23.8, "dy": 44, "fontSize": 8.5, "color": "#222"}},
           {"mark": {"type": "text", "align": "left", "baseline": "middle", "dx": -17.5, "dy": 41, "fontSize": 12, "color": "#222"}, "encoding": {"text": {"field": "pc"}}}
         ]},
        {"data": {"values": [{"m": 0, "v": 1}]}, "mark": {"type": "point", "shape": "M-1,0L1,0M0,-1L0,1", "size": 90, "filled": false, "color": "#000", "strokeWidth": 1.6, "opacity": 1}}
      ]
    }
  ]
}
